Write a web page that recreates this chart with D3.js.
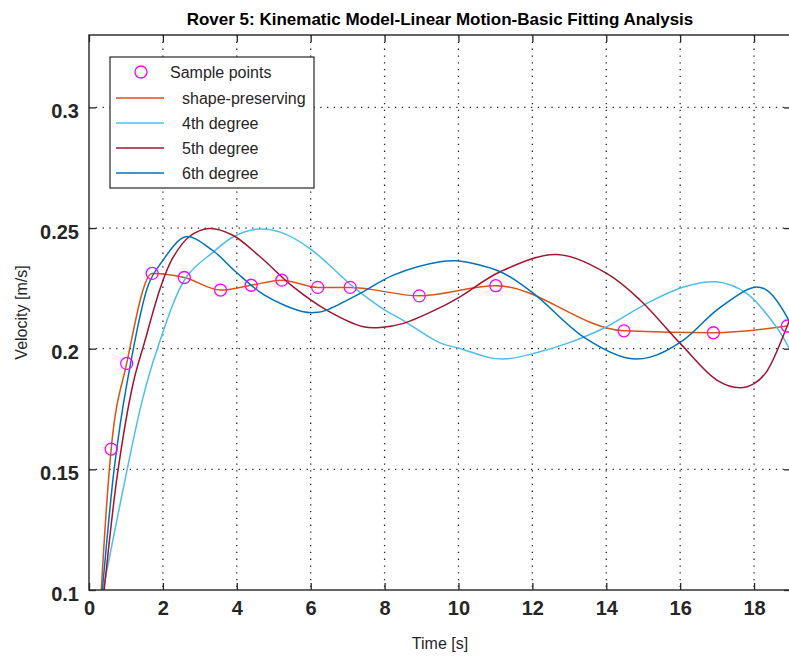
<!DOCTYPE html>
<html>
<head>
<meta charset="utf-8">
<script src="https://cdn.jsdelivr.net/npm/d3@7"></script>
<style>
  body { margin: 0; background: #fff; }
  svg { display: block; font-family: "Liberation Sans", Arial, sans-serif; }
</style>
</head>
<body>
<div id="chart"></div>
<script>
// sample data (time [s], velocity [m/s])
const sampleT = [0, 0.6, 1.02, 1.71, 2.58, 3.56, 4.39, 5.22, 6.19, 7.07, 8.94, 11.01, 14.48, 16.9, 18.9];
const sampleV = [0, 0.1584, 0.1939, 0.2312, 0.2295, 0.2243, 0.2263, 0.2284, 0.2254, 0.2254, 0.2219, 0.2261, 0.2074, 0.2066, 0.2094];

// fitted curves
const fit4T = [0.3, 0.38, 0.9, 1.44, 1.85, 2.64, 3.37, 3.91, 4.6, 5.2, 5.98, 7.2, 8.01, 8.42, 9.5, 10.04, 10.86, 11.3, 12.03, 13.0, 14.01, 15.1, 16.09, 16.99, 17.8, 18.6, 18.93, 19.1];
const fit4V = [0.094, 0.100, 0.140, 0.1785, 0.2000, 0.2298, 0.2401, 0.2464, 0.2496, 0.2482, 0.2415, 0.2250, 0.2160, 0.2125, 0.2024, 0.2001, 0.1962, 0.1958, 0.1980, 0.2025, 0.2091, 0.2188, 0.2256, 0.2277, 0.2229, 0.2091, 0.2008, 0.196];

const fit5T = [0.3, 0.41, 0.77, 1.2, 1.5, 1.94, 2.26, 2.71, 3.25, 3.88, 4.63, 5.53, 6.43, 7.43, 7.9, 8.51, 9.5, 10.04, 11.13, 12.66, 14.01, 14.92, 16.0, 16.99, 17.62, 18.0, 18.34, 18.89, 19.1];
const fit5V = [0.084, 0.100, 0.148, 0.186, 0.2025, 0.2256, 0.2374, 0.2464, 0.2498, 0.2471, 0.2381, 0.2256, 0.2160, 0.2091, 0.2088, 0.2105, 0.2170, 0.2215, 0.2319, 0.2390, 0.2312, 0.2201, 0.2022, 0.1870, 0.1838, 0.1855, 0.1905, 0.2091, 0.218];

const fit6T = [0.3, 0.36, 0.68, 1.02, 1.62, 1.94, 2.62, 3.34, 3.97, 4.75, 5.8, 6.2, 6.43, 7.34, 8.24, 9.5, 9.95, 11.13, 12.03, 13.38, 14.6, 15.19, 16.09, 16.99, 17.98, 18.34, 18.89, 19.1];
const fit6V = [0.091, 0.100, 0.150, 0.185, 0.2270, 0.2353, 0.2464, 0.2408, 0.2319, 0.2222, 0.2153, 0.2151, 0.2160, 0.2229, 0.2305, 0.2360, 0.2364, 0.2319, 0.2229, 0.2049, 0.1960, 0.1965, 0.2036, 0.2160, 0.2254, 0.2243, 0.2132, 0.205];

const xTicks = [0, 2, 4, 6, 8, 10, 12, 14, 16, 18];
const yTicks = [0.1, 0.15, 0.2, 0.25, 0.3];

const series = [
  {name: "shape-preserving", t: sampleT, v: sampleV, color: "#D95319", curve: d3.curveMonotoneX},
  {name: "4th degree", t: fit4T, v: fit4V, color: "#4DBEEE", curve: d3.curveCatmullRom},
  {name: "5th degree", t: fit5T, v: fit5V, color: "#A2142F", curve: d3.curveCatmullRom},
  {name: "6th degree", t: fit6T, v: fit6V, color: "#0072BD", curve: d3.curveCatmullRom}
];

const W = 789, H = 657;
const pLeft = 89, pRight = 791, pTop = 35, pBottom = 590;
const axisColor = "#262626";

const svg = d3.select("#chart").append("svg")
  .attr("width", W)
  .attr("height", H);

const x = d3.scaleLinear().domain([0, 19]).range([pLeft, pRight]);
const y = d3.scaleLinear().domain([0.1, 0.33]).range([pBottom, pTop]);

svg.append("clipPath").attr("id", "plotclip")
  .append("rect")
  .attr("x", pLeft).attr("y", pTop)
  .attr("width", pRight - pLeft).attr("height", pBottom - pTop);

// dotted grid
const grid = svg.append("g").attr("class", "grid");
grid.selectAll("line.vx")
  .data(xTicks.filter(d => d > 0))
  .enter().append("line")
  .attr("x1", d => x(d)).attr("x2", d => x(d))
  .attr("y1", pTop).attr("y2", pBottom)
  .attr("stroke", axisColor).attr("stroke-width", 1.3)
  .attr("stroke-dasharray", "1.3,5.5");
grid.selectAll("line.hy")
  .data(yTicks.filter(d => d > 0.1))
  .enter().append("line")
  .attr("x1", pLeft).attr("x2", pRight)
  .attr("y1", d => y(d)).attr("y2", d => y(d))
  .attr("stroke", axisColor).attr("stroke-width", 1.3)
  .attr("stroke-dasharray", "1.3,5.5");

// curves
const plot = svg.append("g").attr("clip-path", "url(#plotclip)");
series.forEach(s => {
  const pts = s.t.map((t, i) => [t, s.v[i]]);
  const line = d3.line()
    .x(d => x(d[0]))
    .y(d => y(d[1]))
    .curve(s.curve);
  plot.append("path")
    .datum(pts)
    .attr("d", line)
    .attr("fill", "none")
    .attr("stroke", s.color)
    .attr("stroke-width", 1.5);
});

// sample markers
plot.selectAll("circle.sample")
  .data(sampleT.map((t, i) => [t, sampleV[i]]))
  .enter().append("circle")
  .attr("class", "sample")
  .attr("cx", d => x(d[0]))
  .attr("cy", d => y(d[1]))
  .attr("r", 6)
  .attr("fill", "none")
  .attr("stroke", "#FF00FF")
  .attr("stroke-width", 1.3);

// axes (box with inward ticks)
const xAxisB = d3.axisBottom(x).tickValues(xTicks).tickSize(-7).tickPadding(11).tickFormat(d3.format("d"));
const xAxisT = d3.axisTop(x).tickValues(xTicks).tickSize(-7).tickFormat("");
const yAxisL = d3.axisLeft(y).tickValues(yTicks).tickSize(-7).tickPadding(10).tickFormat(d => d3.format("")(d));
const yAxisR = d3.axisRight(y).tickValues(yTicks).tickSize(-7).tickFormat("");

function styleAxis(g) {
  g.select(".domain").remove();
  g.selectAll(".tick line").attr("stroke", axisColor).attr("stroke-width", 1.3);
  g.selectAll(".tick text")
    .attr("fill", axisColor)
    .attr("font-size", 20)
    .attr("font-weight", "bold")
    .attr("font-family", "'Liberation Sans', Arial, sans-serif");
}

svg.append("g").attr("transform", `translate(0,${pBottom})`).call(xAxisB).call(styleAxis);
svg.append("g").attr("transform", `translate(0,${pTop})`).call(xAxisT).call(styleAxis);
svg.append("g").attr("transform", `translate(${pLeft},0)`).call(yAxisL).call(styleAxis)
  .selectAll(".tick text").attr("dy", "0.5em");
svg.append("g").attr("transform", `translate(${pRight},0)`).call(yAxisR).call(styleAxis);

svg.append("rect")
  .attr("x", pLeft).attr("y", pTop)
  .attr("width", pRight - pLeft).attr("height", pBottom - pTop)
  .attr("fill", "none")
  .attr("stroke", axisColor)
  .attr("stroke-width", 1.4);

// titles
svg.append("text")
  .attr("x", (pLeft + pRight) / 2).attr("y", 25)
  .attr("text-anchor", "middle")
  .attr("font-size", 17).attr("font-weight", "bold")
  .attr("fill", "#000")
  .text("Rover 5: Kinematic Model-Linear Motion-Basic Fitting Analysis");

svg.append("text")
  .attr("x", (pLeft + pRight) / 2).attr("y", 649)
  .attr("text-anchor", "middle")
  .attr("font-size", 16)
  .attr("fill", axisColor)
  .text("Time [s]");

svg.append("text")
  .attr("transform", `translate(27,${(pTop + pBottom) / 2}) rotate(-90)`)
  .attr("text-anchor", "middle")
  .attr("font-size", 16)
  .attr("fill", axisColor)
  .text("Velocity [m/s]");

// legend
const legend = svg.append("g").attr("class", "legend");
legend.append("rect")
  .attr("x", 110).attr("y", 57)
  .attr("width", 204).attr("height", 131)
  .attr("fill", "#fff")
  .attr("stroke", axisColor)
  .attr("stroke-width", 1.2);

legend.append("circle")
  .attr("cx", 141).attr("cy", 72).attr("r", 6)
  .attr("fill", "none").attr("stroke", "#FF00FF").attr("stroke-width", 1.3);
legend.append("text")
  .attr("x", 170).attr("y", 72).attr("dy", "0.35em")
  .attr("font-size", 16).attr("fill", axisColor)
  .text("Sample points");

const rowY = d3.scalePoint().domain(series.map(s => s.name)).range([98, 173]);
const rows = legend.selectAll("g.row")
  .data(series)
  .enter().append("g")
  .attr("class", "row")
  .attr("transform", d => `translate(0,${rowY(d.name)})`);
rows.append("line")
  .attr("x1", 116).attr("x2", 164)
  .attr("stroke", d => d.color).attr("stroke-width", 1.5);
rows.append("text")
  .attr("x", 182).attr("dy", "0.35em")
  .attr("font-size", 16).attr("fill", axisColor)
  .text(d => d.name);
</script>
</body>
</html>
